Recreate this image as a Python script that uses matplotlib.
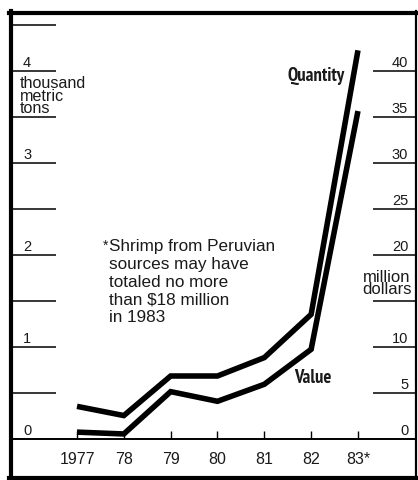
import matplotlib
matplotlib.use('Agg')
import matplotlib.pyplot as plt
from matplotlib.lines import Line2D
from matplotlib import font_manager

# valores
anos = [1977, 1978, 1979, 1980, 1981, 1982, 1983]
quantidade = [0.36, 0.26, 0.69, 0.69, 0.89, 1.36, 4.23]   # mil toneladas
valor = [0.8, 0.6, 5.2, 4.15, 6.0, 9.8, 35.7]             # milhoes de dolares
rotulos_x = ['1977', '78', '79', '80', '81', '82', '83*']
ticks_esq = [0.5, 1, 1.5, 2, 2.5, 3, 3.5, 4, 4.5]
rotulos_esq = [0, 1, 2, 3, 4]
ticks_dir = [5, 10, 15, 20, 25, 30, 35, 40]
rotulos_dir = [0, 5, 10, 20, 25, 30, 35, 40]

plt.rcParams['font.family'] = ['Liberation Sans', 'DejaVu Sans']
cor_txt = '#1a1a1a'

# procura uma fonte estreita em negrito (se houver), senao Liberation Sans bold
def ordem(f):
    nome = f.name + ' ' + f.fname
    if 'Narrow' in nome:
        return 0
    if 'ExtraCondensed' in nome or 'Extra Condensed' in nome:
        return 1
    if 'DejaVu' not in nome and ('Condensed' in nome or f.stretch == 'condensed'):
        return 2
    return 9

candidatas = [f for f in font_manager.fontManager.ttflist
              if f.weight in (700, 'bold') and f.style == 'normal' and ordem(f) < 9]
candidatas.sort(key=ordem)
if candidatas:
    fonte_estreita = font_manager.FontProperties(fname=candidatas[0].fname, size=12)
else:
    fonte_estreita = font_manager.FontProperties(family='Liberation Sans', weight='bold', size=12)

W, H = 418, 481
def fx(x):
    return x / W
def fy(y):
    return 1 - y / H

fig = plt.figure(figsize=(W / 100, H / 100), dpi=100)
ax = fig.add_axes([fx(13), fy(477), (415 - 13) / W, (477 - 16) / H])
ax2 = ax.twinx()

ax.set_xlim(1975.633, 1984.218)
ax.set_ylim(-0.397, 4.614)
ax2.set_ylim(-3.97, 46.14)

ax.plot(anos, quantidade, color='black', lw=4, solid_joinstyle='miter', solid_capstyle='butt')
ax2.plot(anos, valor, color='black', lw=4, solid_joinstyle='miter', solid_capstyle='butt')

for s in ['left', 'right', 'top']:
    ax.spines[s].set_visible(False)
for s in ['left', 'right', 'top', 'bottom']:
    ax2.spines[s].set_visible(False)
ax.spines['bottom'].set_position(('data', 0))
ax.spines['bottom'].set_linewidth(1.4)

ax.set_xticks(anos)
ax.set_xticklabels(rotulos_x, fontsize=11.5, color=cor_txt)
ax.tick_params(axis='x', direction='in', length=6, width=1, pad=8)
ax.set_yticks([])
ax2.set_yticks([])

# linhas de escala
ty = ax.get_yaxis_transform()
ax.hlines(ticks_esq, 0, 0.107, transform=ty, color='black', lw=1.1)
for v in rotulos_esq:
    ax.text(0.025, v + 0.03, str(v), transform=ty, ha='left', va='bottom', fontsize=10.5, color=cor_txt)

ty2 = ax2.get_yaxis_transform()
ax2.hlines(ticks_dir, 0.896, 1, transform=ty2, color='black', lw=1.1)
for v in rotulos_dir:
    ax2.text(0.983, v + 0.3, str(v), transform=ty2, ha='right', va='bottom', fontsize=10.5, color=cor_txt)

# textos
fig.text(fx(20), fy(76), 'thousand\nmetric\ntons', ha='left', va='top', fontsize=11.6,
         linespacing=0.8, color=cor_txt)
fig.text(fx(387), fy(270), 'million\ndollars', ha='center', va='top', fontsize=12,
         linespacing=0.75, color=cor_txt)
t_q = fig.text(fx(316), fy(76), 'Quantity', ha='center', va='center',
               fontproperties=fonte_estreita, color=cor_txt)
t_v = fig.text(fx(313), fy(378), 'Value', ha='center', va='center',
               fontproperties=fonte_estreita, color=cor_txt)
fig.text(fx(108), fy(239), '*', ha='right', va='top', fontsize=10, color=cor_txt)
fig.text(fx(109), fy(239),
         'Shrimp from Peruvian\nsources may have\ntotaled no more\nthan $18 million\nin 1983',
         ha='left', va='top', fontsize=12.3, linespacing=1.23, color=cor_txt)

# ajusta o tamanho dos rotulos em negrito para a largura do original (~57 px)
fig.canvas.draw()
larg = t_q.get_window_extent().width
novo = min(13.5, 12 * 57 / larg)
t_q.set_fontsize(novo)
t_v.set_fontsize(novo)

# moldura
tf = fig.transFigure
fig.add_artist(Line2D([fx(11), fx(11)], [fy(12), fy(481)], lw=3, color='black', transform=tf))
fig.add_artist(Line2D([fx(9), fx(417)], [fy(14), fy(14)], lw=3, color='black', transform=tf))
fig.add_artist(Line2D([fx(416), fx(416)], [fy(12), fy(481)], lw=1.6, color='black', transform=tf))
fig.add_artist(Line2D([fx(9), fx(418)], [fy(479), fy(479)], lw=3, color='black', transform=tf))

fig.savefig('out.png', dpi=100)
